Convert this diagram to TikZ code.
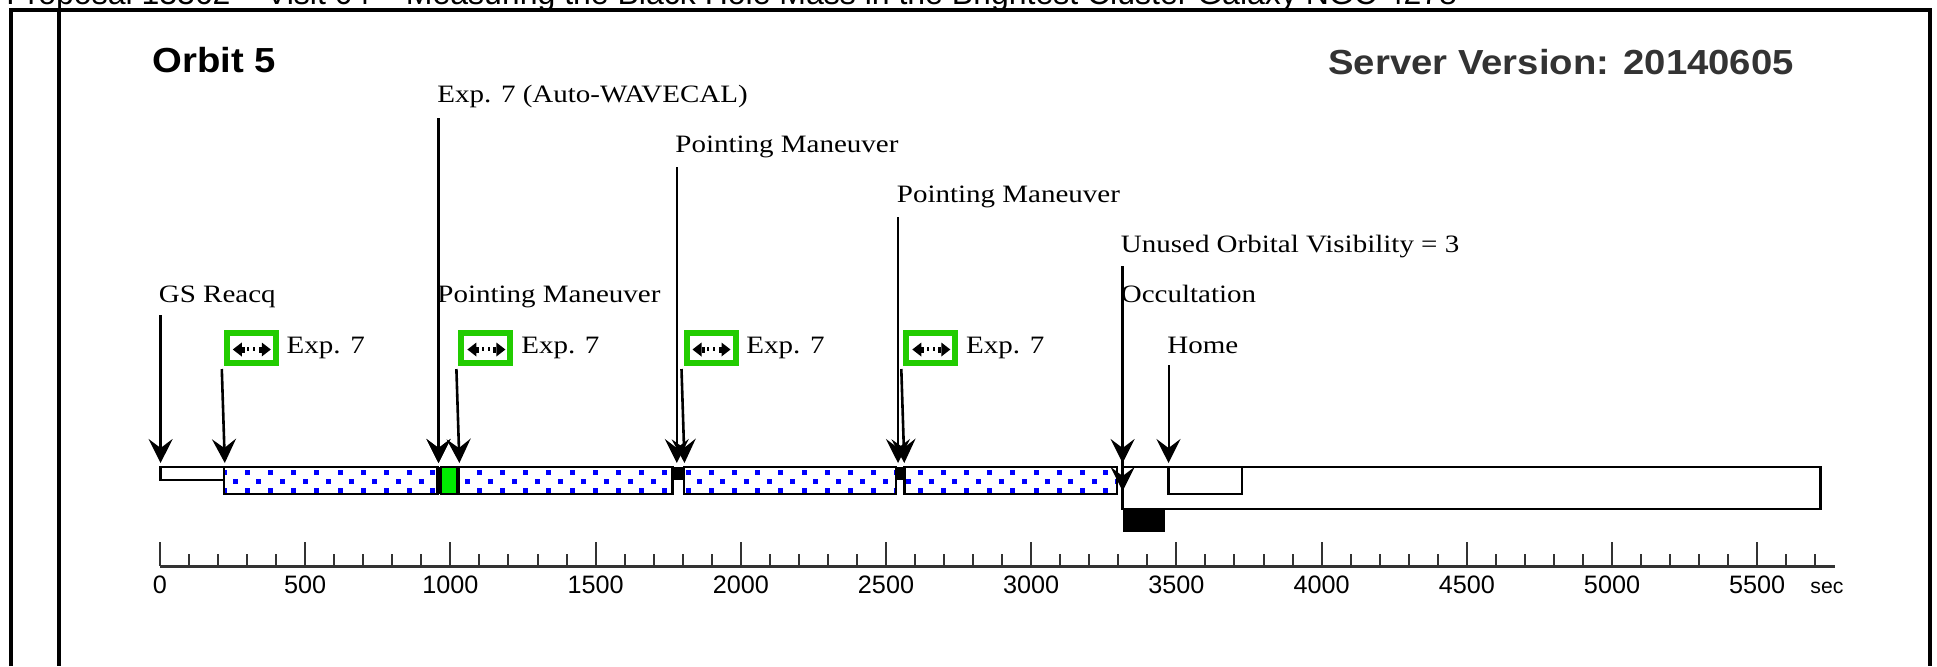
\documentclass[tikz,border=0pt]{standalone}
\usepackage{fontspec}
\usepackage{graphicx}
\usetikzlibrary{arrows.meta}
\setmainfont{Liberation Serif}
\newfontfamily\evfont[FakeStretch=1.16]{Liberation Serif}
\newfontfamily\headfont[FakeStretch=1.1]{Liberation Sans}
\newfontfamily\plainsans{Liberation Sans}

\definecolor{flaggreen}{RGB}{34,204,0}
\definecolor{calgreen}{RGB}{0,235,0}
\definecolor{dotblue}{RGB}{0,0,255}
\definecolor{axisgrey}{RGB}{51,51,51}

\tikzset{
  evlabel/.style={anchor=base west, inner sep=0pt, font=\evfont\fontsize{12.5}{14}\selectfont},
  headlabel/.style={anchor=base west, inner sep=0pt, font=\headfont\bfseries\fontsize{17.4}{20}\selectfont},
  ticklabel/.style={anchor=base, inner sep=0pt, font=\plainsans\fontsize{12.6}{14}\selectfont},
  evarrow/.style={line width=1.3pt, -{Stealth[length=12pt,width=12pt,inset=4.5pt]}},
  framerule/.style={line width=2pt},
  barbox/.style={draw=black, line width=1.2pt},
  flagbox/.style={draw=flaggreen, line width=3pt, fill=white, minimum width=24.5pt,
                  minimum height=15pt, inner sep=0pt},
  axisline/.style={draw=axisgrey, line width=1.5pt},
  tickmark/.style={draw=axisgrey, line width=1pt},
  expflag/.pic={
    \node[flagbox] (-box) at (0,0) {};
    \fill[black] (-18.5,1.5) -- (-9.5,-5.5) -- (-9.5,8.5) -- cycle;
    \fill[black] (-9.5,-1.5) rectangle (-6.5,4.5);
    \fill[black] (-4,-1) rectangle (-2,3);
    \fill[black] (2,-1) rectangle (4,3);
    \fill[black] (19.5,1.5) -- (10.5,-5.5) -- (10.5,8.5) -- cycle;
    \fill[black] (7.5,-1.5) rectangle (10.5,4.5);
  }
}

\begin{document}
\begin{tikzpicture}[x=0.5pt,y=-0.5pt]
\useasboundingbox (0,0) rectangle (1937,666);
\clip (0,0) rectangle (1937,666);
\fill[white] (0,0) rectangle (1937,666);

% page heading (cut by the top edge)
\node[anchor=base west, inner sep=0pt, font=\plainsans\fontsize{16}{18}\selectfont] (title) at (6,4.5)
  {Proposal 13362 – Visit 04 – Measuring the Black Hole Mass in the Brightest Cluster Galaxy NGC 4278};

% frame
\draw[framerule] (10.5,666) -- (10.5,10) -- (1930,10) -- (1930,666);
\draw[framerule] (59,10) -- (59,666);

% header
\node[headlabel] (orbit) at (152,72) {Orbit 5};
\node[headlabel, text=axisgrey] (server) at (1328,74) {Server Version: 20140605};

% timeline: exposure bars with dotted fill
\fill[white] (223.8,467) rectangle (438,494) (458.4,467) rectangle (672.3,494)
             (683.7,467) rectangle (895.7,494) (904.3,467) rectangle (1117,494);
\begin{scope}
  \clip (223.8,467) rectangle (438,494) (458.4,467) rectangle (672.3,494)
        (683.7,467) rectangle (895.7,494) (904.3,467) rectangle (1117,494);
  \foreach \k in {0,...,80}{
    \pgfmathsetmacro\dx{224+11.6*\k}
    \pgfmathtruncatemacro\odd{mod(\k,2)}
    \ifnum\odd=0
      \fill[dotblue] (\dx-2.5,469.5) rectangle (\dx+2.5,474.5);
      \fill[dotblue] (\dx-2.5,487.5) rectangle (\dx+2.5,492.5);
    \else
      \fill[dotblue] (\dx-2.5,478.5) rectangle (\dx+2.5,483.5);
    \fi
  }
\end{scope}
\draw[barbox] (223.8,467) rectangle (438,494);
\draw[barbox] (458.4,467) rectangle (672.3,494);
\draw[barbox] (683.7,467) rectangle (895.7,494);
\draw[barbox] (904.3,467) rectangle (1117,494);

% acquisition, calibration and maneuvers
\draw[barbox, fill=white] (160.6,467) rectangle (223.8,480);
\fill[black] (436,467) rectangle (441,494);
\draw[barbox, fill=calgreen] (441,467) rectangle (457,494);
\fill[black] (672.3,467) rectangle (683.7,480);
\fill[black] (895.7,467) rectangle (904.3,480);

% occultation and home
\draw[barbox, fill=white] (1122.6,467) rectangle (1820.6,509);
\draw[barbox] (1168.5,467) rectangle (1241.8,494);
\fill[black] (1122.6,508) rectangle (1164.7,532);

% time axis
\draw[axisline] (160,566) -- (1835,566);
\foreach \k in {0,...,57}{
  \pgfmathsetmacro\tx{160+29.04*\k}
  \pgfmathsetmacro\ttop{mod(\k,5)==0 ? 542 : 554}
  \draw[tickmark] (\tx,\ttop) -- (\tx,566);
}
\foreach \k in {0,...,11}{
  \pgfmathtruncatemacro\val{500*\k}
  \node[ticklabel] (tl\k) at (160+145.2*\k,593) {\val};
}
\node[anchor=base west, inner sep=0pt, font=\plainsans\fontsize{10.6}{12}\selectfont] (secl) at (1810,593) {sec};

% event labels
\node[evlabel] (wavlbl) at (437,102.5) {Exp. 7 (Auto-WAVECAL)};
\node[evlabel] (pm2lbl) at (675,152.5) {Pointing Maneuver};
\node[evlabel] (pm3lbl) at (896.5,202.5) {Pointing Maneuver};
\node[evlabel] (unulbl) at (1120.5,252.5) {Unused Orbital Visibility = 3};
\node[evlabel] (gslbl)  at (158.5,302.5) {GS Reacq};
\node[evlabel] (pm1lbl) at (437,302.5) {Pointing Maneuver};
\node[evlabel] (occlbl) at (1120.5,302.5) {Occultation};
\node[evlabel] (homelbl) at (1167,353) {Home};

% line ends
\coordinate (wavtop) at (438.5,118);
\coordinate (wavtip) at (438.5,463);
\coordinate (pm1top) at (438.5,315);
\coordinate (pm1tip) at (438.5,463);
\coordinate (pm2top) at (676.8,167);
\coordinate (pm2tip) at (676.8,463);
\coordinate (pm3top) at (898,217);
\coordinate (pm3tip) at (898,463);
\coordinate (unutop) at (1122.6,266);
\coordinate (unutip) at (1122.6,463);
\coordinate (occtop) at (1122.6,315);
\coordinate (occtip) at (1122.6,491);
\coordinate (gstop)  at (160.6,315);
\coordinate (gstip)  at (160.6,463);
\coordinate (hometop) at (1168.5,365);
\coordinate (hometip) at (1168.5,463);

\draw[evarrow] (gstop) -- (gstip);
\draw[evarrow] (wavtop) -- (wavtip);
\draw[evarrow] (pm1top) -- (pm1tip);
\draw[evarrow] (pm2top) -- (pm2tip);
\draw[evarrow] (pm3top) -- (pm3tip);
\draw[evarrow] (occtop) -- (occtip);
\draw[evarrow] (unutop) -- (unutip);
\draw[evarrow, line width=1pt] (hometop) -- (hometip);

% exposure flags
\foreach \n/\px in {A/224.8, B/459.4, C/684.5, D/904.3}{
  \pic (flag\n) at (\px+26.5,348) {expflag};
  \node[evlabel] (exp\n) at (\px+61.5,353) {Exp. 7};
  \coordinate (tip\n) at (\px,463);
  \draw[evarrow] ([xshift=-1pt,yshift=-1.5pt]flag\n-box.south west) -- (tip\n);
}
\end{tikzpicture}
\end{document}
